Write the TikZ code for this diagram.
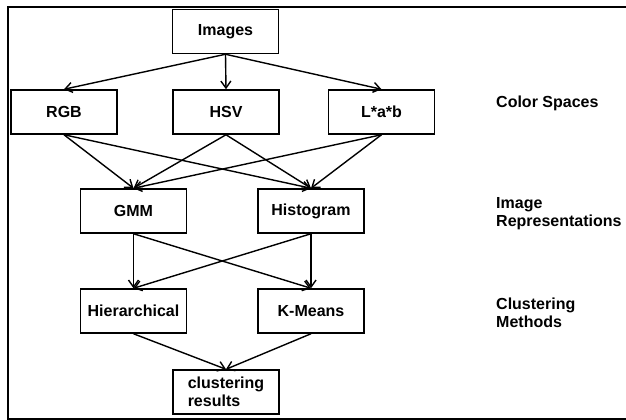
\documentclass[tikz,border=0pt]{standalone}
\usepackage{fontspec}
\setmainfont{Liberation Sans}
\usetikzlibrary{arrows.meta}
\tikzset{
  stagebox/.style={draw, line width=1.5pt, minimum width=106pt, minimum height=44pt,
    inner sep=2pt, align=left, font=\fontsize{16}{18}\selectfont\bfseries},
  stagelabel/.style={anchor=west, inner sep=0pt, align=left, font=\fontsize{16}{18}\selectfont\bfseries},
  flow/.style={line width=1.4pt, -{Straight Barb[length=7pt,width=10pt]}}
}
\begin{document}
\begin{tikzpicture}[x=1pt, y=1pt]
                \useasboundingbox (0,0) rectangle (626,-420);

                \draw[line width=2pt] (626,-7.5) -- (7.5,-7.5) -- (7.5,-418.5) -- (626,-418.5);

                \node[stagebox] (img) at (225.5,-31.5) {Images};

                \node[stagebox] (rgb) at (64,-112) {RGB};
                \node[stagebox] (hsv) at (226,-112) {HSV};
                \node[stagebox] (lab) at (381.5,-112) {L*a*b};

                \node[stagebox] (gmm) at (133.5,-211) {GMM};
                \node[stagebox] (hist) at (311,-211) {Histogram};

                \node[stagebox] (hier) at (133.5,-311) {Hierarchical};
                \node[stagebox] (kmeans) at (311,-311) {K-Means};

                \node[stagebox] (res) at (226,-392) {clustering\\results};

                \node[stagelabel] (spaces) at (496,-103) {Color Spaces};
                \node[stagelabel] (repr) at (496,-213.5) {Image\\Representations};
                \node[stagelabel] (methods) at (496,-312.5) {Clustering\\Methods};

                \foreach \t in {rgb, hsv, lab}
                  \draw[flow] (img.south) -- (\t.north);

                \foreach \s in {rgb, hsv, lab}
                  \foreach \t in {gmm, hist}
                    \draw[flow] (\s.south) -- (\t.north);

                \foreach \s in {gmm, hist}
                  \foreach \t in {hier, kmeans}
                    \draw[flow] (\s.south) -- (\t.north);

                \draw[flow] (hier.south) -- (res.north);
                \draw[flow] (kmeans.south) -- (res.north);
            \end{tikzpicture}
\end{document}
